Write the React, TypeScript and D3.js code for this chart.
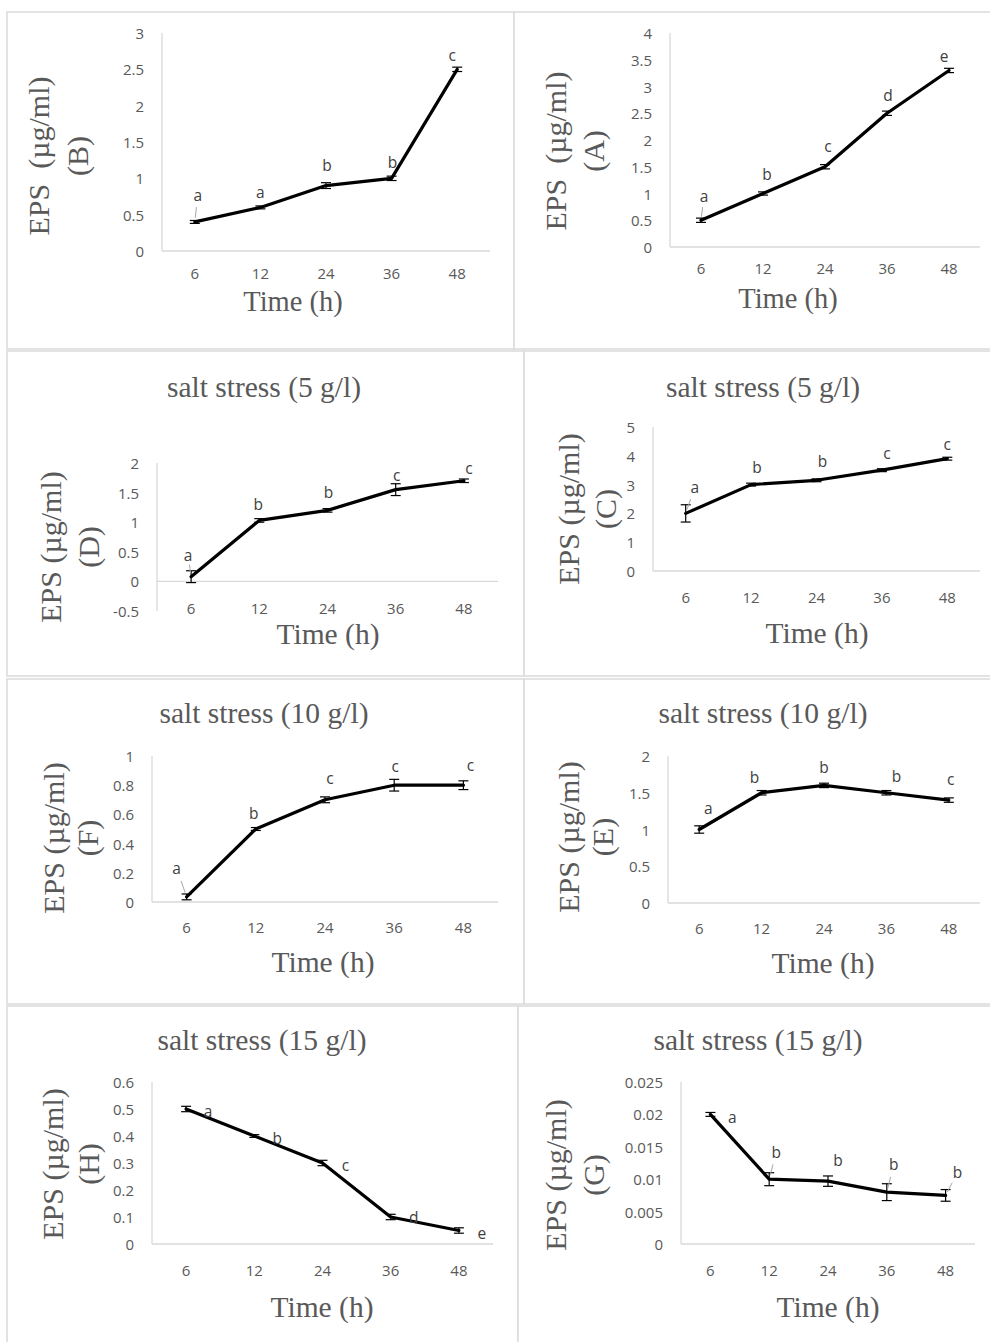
import React from "react";
import * as d3 from "d3";

// Sampling times (h), shared by every panel
const TIMES = ["6", "12", "24", "36", "48"];

// Panel B
const EPS_B = [0.4, 0.6, 0.9, 1.0, 2.5];
const ERR_B = [0.02, 0.02, 0.04, 0.03, 0.03];
const LET_B = ["a", "a", "b", "b", "c"];
const TICKS_B = [0, 0.5, 1, 1.5, 2, 2.5, 3];

// Panel A
const EPS_A = [0.5, 1.0, 1.5, 2.5, 3.3];
const ERR_A = [0.04, 0.03, 0.04, 0.04, 0.04];
const LET_A = ["a", "b", "c", "d", "e"];
const TICKS_A = [0, 0.5, 1, 1.5, 2, 2.5, 3, 3.5, 4];

// Panel D – salt stress 5 g/l
const EPS_D = [0.08, 1.03, 1.2, 1.55, 1.7];
const ERR_D = [0.1, 0.03, 0.03, 0.1, 0.03];
const LET_D = ["a", "b", "b", "c", "c"];
const TICKS_D = [-0.5, 0, 0.5, 1, 1.5, 2];

// Panel C – salt stress 5 g/l
const EPS_C = [2.0, 3.0, 3.15, 3.5, 3.9];
const ERR_C = [0.3, 0.05, 0.05, 0.05, 0.05];
const LET_C = ["a", "b", "b", "c", "c"];
const TICKS_C = [0, 1, 2, 3, 4, 5];

// Panel F – salt stress 10 g/l
const EPS_F = [0.035, 0.5, 0.7, 0.8, 0.8];
const ERR_F = [0.02, 0.01, 0.02, 0.04, 0.03];
const LET_F = ["a", "b", "c", "c", "c"];
const TICKS_F = [0, 0.2, 0.4, 0.6, 0.8, 1];

// Panel E – salt stress 10 g/l
const EPS_E = [1.0, 1.5, 1.6, 1.5, 1.4];
const ERR_E = [0.05, 0.03, 0.03, 0.03, 0.03];
const LET_E = ["a", "b", "b", "b", "c"];
const TICKS_E = [0, 0.5, 1, 1.5, 2];

// Panel H – salt stress 15 g/l
const EPS_H = [0.5, 0.4, 0.3, 0.1, 0.05];
const ERR_H = [0.01, 0.005, 0.01, 0.01, 0.01];
const LET_H = ["a", "b", "c", "d", "e"];
const TICKS_H = [0, 0.1, 0.2, 0.3, 0.4, 0.5, 0.6];

// Panel G – salt stress 15 g/l
const EPS_G = [0.02, 0.01, 0.0097, 0.008, 0.0075];
const ERR_G = [0.0003, 0.001, 0.0008, 0.0013, 0.0009];
const LET_G = ["a", "b", "b", "b", "b"];
const TICKS_G = [0, 0.005, 0.01, 0.015, 0.02, 0.025];

type Panel = {
  id: string;
  title?: string;
  ylab: string;
  values: number[];
  errors: number[];
  letters: string[];
  ticks: number[];
  box: [number, number, number, number];
  plot: { left: number; right: number; top: number; bottom: number };
  tickY: number;
  time: [number, number];
  timeSize: number;
  titlePos?: [number, number];
  ylabPos: [number, number, number];
  labelOff: [number, number][];
  leaders: number[];
};

const PANELS: Panel[] = [
  {
    id: "B", ylab: "EPS  (µg/ml)", values: EPS_B, errors: ERR_B, letters: LET_B, ticks: TICKS_B,
    box: [7, 12, 514, 349], plot: { left: 162, right: 490, top: 33, bottom: 251 },
    tickY: 273, time: [293, 301], timeSize: 28.5, ylabPos: [38, 77, 156],
    labelOff: [[3, -27], [0, -15], [1, -21], [1, -16], [-5, -14]], leaders: [0],
  },
  {
    id: "A", ylab: "EPS  (µg/ml)", values: EPS_A, errors: ERR_A, letters: LET_A, ticks: TICKS_A,
    box: [514, 12, 992, 349], plot: { left: 670, right: 980, top: 33, bottom: 247 },
    tickY: 268, time: [788, 298], timeSize: 28.5, ylabPos: [555, 593, 151],
    labelOff: [[3, -24], [4, -20], [3, -21], [1, -18], [-5, -14]], leaders: [0],
  },
  {
    id: "D", title: "salt stress (5 g/l)", ylab: "EPS (µg/ml)", values: EPS_D, errors: ERR_D, letters: LET_D, ticks: TICKS_D,
    box: [7, 351, 524, 676], plot: { left: 157, right: 498, top: 463, bottom: 611 },
    tickY: 608, time: [328, 634], timeSize: 29.5, titlePos: [264, 387], ylabPos: [50, 88, 547],
    labelOff: [[-3, -22], [-1, -16], [1, -18], [1, -15], [5, -13]], leaders: [0],
  },
  {
    id: "C", title: "salt stress (5 g/l)", ylab: "EPS (µg/ml)", values: EPS_C, errors: ERR_C, letters: LET_C, ticks: TICKS_C,
    box: [524, 351, 992, 676], plot: { left: 653, right: 980, top: 427, bottom: 571 },
    tickY: 597, time: [817, 633], timeSize: 29.5, titlePos: [763, 387], ylabPos: [568, 605, 509],
    labelOff: [[9, -26], [6, -18], [6, -19], [5, -17], [0, -15]], leaders: [0],
  },
  {
    id: "F", title: "salt stress (10 g/l)", ylab: "EPS (µg/ml)", values: EPS_F, errors: ERR_F, letters: LET_F, ticks: TICKS_F,
    box: [7, 679, 524, 1004], plot: { left: 152, right: 498, top: 756, bottom: 902 },
    tickY: 927, time: [323, 962], timeSize: 29.5, titlePos: [264, 713], ylabPos: [53, 87, 838],
    labelOff: [[-10, -29], [-2, -16], [5, -22], [1, -19], [7, -20]], leaders: [0],
  },
  {
    id: "E", title: "salt stress (10 g/l)", ylab: "EPS (µg/ml)", values: EPS_E, errors: ERR_E, letters: LET_E, ticks: TICKS_E,
    box: [524, 679, 992, 1004], plot: { left: 668, right: 980, top: 756, bottom: 903 },
    tickY: 928, time: [823, 963], timeSize: 29.5, titlePos: [763, 713], ylabPos: [568, 602, 837],
    labelOff: [[9, -22], [-7, -16], [0, -18], [10, -17], [2, -21]], leaders: [],
  },
  {
    id: "H", title: "salt stress (15 g/l)", ylab: "EPS (µg/ml)", values: EPS_H, errors: ERR_H, letters: LET_H, ticks: TICKS_H,
    box: [7, 1006, 518, 1346], plot: { left: 152, right: 493, top: 1082, bottom: 1244 },
    tickY: 1270, time: [322, 1307], timeSize: 29.5, titlePos: [262, 1040], ylabPos: [52, 88, 1164],
    labelOff: [[22, 2], [23, 2], [23, 2], [23, 0], [23, 2]], leaders: [],
  },
  {
    id: "G", title: "salt stress (15 g/l)", ylab: "EPS (µg/ml)", values: EPS_G, errors: ERR_G, letters: LET_G, ticks: TICKS_G,
    box: [518, 1006, 992, 1346], plot: { left: 681, right: 975, top: 1082, bottom: 1244 },
    tickY: 1270, time: [828, 1307], timeSize: 29.5, titlePos: [758, 1040], ylabPos: [555, 593, 1175],
    labelOff: [[22, 3], [7, -27], [10, -21], [7, -28], [12, -23]], leaders: [1, 3, 4],
  },
];

const SERIF = "'Liberation Serif', 'Times New Roman', serif";
const SANS = "'Open Sans', 'Noto Sans', sans-serif";
const GRAY = "#595959";
const AXIS = "#d9d9d9";

const fmt = (v: number) => String(+v.toFixed(4));

function PanelChart({ p }: { p: Panel }) {
  const { plot } = p;
  const x = d3.scaleBand<string>().domain(TIMES).range([plot.left, plot.right]);
  const dom = d3.extent(p.ticks) as [number, number];
  const y = d3.scaleLinear().domain(dom).range([plot.bottom, plot.top]);
  const cx = (t: string) => (x(t) as number) + x.bandwidth() / 2;
  const pts: [number, number][] = TIMES.map((t, i) => [cx(t), y(p.values[i])]);
  const line = d3.line()(pts) as string;
  const [bx0, by0, bx1, by1] = p.box;

  return (
    <g>
      <rect x={bx0} y={by0} width={bx1 - bx0} height={by1 - by0} fill="#fff" stroke="#dcdcdc" strokeWidth={1.6} />
      {p.title && p.titlePos && (
        <text x={p.titlePos[0]} y={p.titlePos[1]} textAnchor="middle" dominantBaseline="central"
          fontFamily={SERIF} fontSize={29.5} fill={GRAY}>{p.title}</text>
      )}
      {/* value axis */}
      <line x1={plot.left} x2={plot.left} y1={y(dom[0])} y2={y(dom[1])} stroke={AXIS} strokeWidth={1.3} />
      {/* category axis crossing at zero */}
      <line x1={plot.left} x2={plot.right} y1={y(0)} y2={y(0)} stroke={AXIS} strokeWidth={1.3} />
      {p.ticks.map((t) => (
        <text key={"yt" + t} x={plot.left - 18} y={y(t)} textAnchor="end" dominantBaseline="central"
          fontFamily={SANS} fontSize={15} fill={GRAY}>{fmt(t)}</text>
      ))}
      {TIMES.map((t) => (
        <text key={"xt" + t} x={cx(t)} y={p.tickY} textAnchor="middle" dominantBaseline="central"
          fontFamily={SANS} fontSize={15} fill={GRAY}>{t}</text>
      ))}
      <text x={p.time[0]} y={p.time[1]} textAnchor="middle" dominantBaseline="central"
        fontFamily={SERIF} fontSize={p.timeSize} fill={GRAY}>Time (h)</text>
      <text transform={`translate(${p.ylabPos[0]},${p.ylabPos[2]}) rotate(-90)`} textAnchor="middle"
        dominantBaseline="central" fontFamily={SERIF} fontSize={30} fill={GRAY} style={{ whiteSpace: "pre" }}>{p.ylab}</text>
      <text transform={`translate(${p.ylabPos[1]},${p.ylabPos[2]}) rotate(-90)`} textAnchor="middle"
        dominantBaseline="central" fontFamily={SERIF} fontSize={30} fill={GRAY}>{`(${p.id})`}</text>
      {/* error bars */}
      {TIMES.map((t, i) => {
        const px = cx(t);
        const hi = y(p.values[i] + p.errors[i]);
        const lo = y(p.values[i] - p.errors[i]);
        return (
          <g key={"eb" + t} stroke="#000" strokeWidth={1.2}>
            <line x1={px} x2={px} y1={hi} y2={lo} />
            <line x1={px - 5} x2={px + 5} y1={hi} y2={hi} />
            <line x1={px - 5} x2={px + 5} y1={lo} y2={lo} />
          </g>
        );
      })}
      <path d={line} fill="none" stroke="#000" strokeWidth={3.2} strokeLinejoin="round" strokeLinecap="round" />
      {/* significance letters */}
      {TIMES.map((t, i) => {
        const [px, py] = pts[i];
        const lx = px + p.labelOff[i][0];
        const ly = py + p.labelOff[i][1];
        const lead = p.leaders.includes(i);
        return (
          <g key={"lb" + t}>
            {lead && (
              <line x1={lx + 0.45 * (px - lx)} y1={ly + 0.45 * (py - ly)} x2={lx + 0.85 * (px - lx)} y2={ly + 0.85 * (py - ly)}
                stroke="#a6a6a6" strokeWidth={1} />
            )}
            <text x={lx} y={ly} textAnchor="middle" dominantBaseline="central" fontFamily={SANS} fontSize={15.5} fill="#404040">
              {p.letters[i]}
            </text>
          </g>
        );
      })}
    </g>
  );
}

export default function App() {
  return (
    <svg width={990} height={1342} viewBox="0 0 990 1342"
      style={{ position: "absolute", left: 0, top: 0, background: "#fff" }}>
      <rect width={990} height={1342} fill="#fff" />
      {PANELS.map((p) => (
        <PanelChart key={p.id} p={p} />
      ))}
    </svg>
  );
}
